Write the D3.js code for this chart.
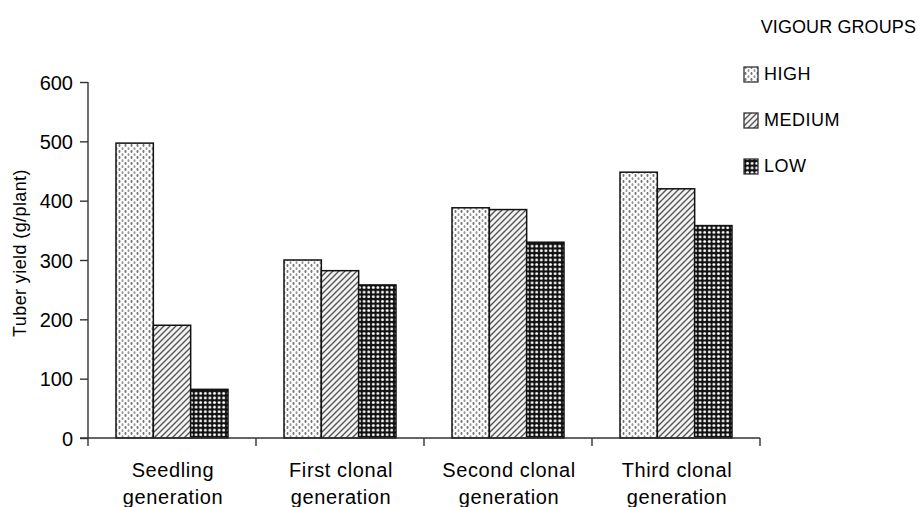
<!DOCTYPE html>
<html>
<head>
<meta charset="utf-8">
<script src="https://cdn.jsdelivr.net/npm/d3@7"></script>
<style>
  body { margin: 0; background: #fff; }
  svg { font-family: "Liberation Sans", Arial, sans-serif; }
</style>
</head>
<body>
<svg id="chart" width="918" height="507"></svg>
<script>
// data
const categories = [["Seedling", "generation"], ["First clonal", "generation"], ["Second clonal", "generation"], ["Third clonal", "generation"]];
const groups = ["HIGH", "MEDIUM", "LOW"];
const high = [497, 300, 388, 448];
const medium = [190, 282, 385, 420];
const low = [82, 258, 330, 358];
const yTicks = [0, 100, 200, 300, 400, 500, 600];

const svg = d3.select("#chart");
const margin = { left: 88, right: 158, top: 82, bottom: 69 };
const width = 918, height = 507;

const x = d3.scaleBand()
    .domain(d3.range(categories.length))
    .range([margin.left, width - margin.right])
    .paddingInner(0).paddingOuter(0);

const xInner = d3.scaleBand()
    .domain(groups)
    .range([0, x.bandwidth()])
    .paddingOuter(0.75).paddingInner(0);

const y = d3.scaleLinear().domain([0, 600]).range([height - margin.bottom, margin.top]);

// fill patterns
const defs = svg.append("defs");
const pHigh = defs.append("pattern").attr("id", "p-high")
    .attr("patternUnits", "userSpaceOnUse").attr("width", 6).attr("height", 6);
pHigh.append("rect").attr("width", 6).attr("height", 6).attr("fill", "#fff");
pHigh.append("ellipse").attr("cx", 1.5).attr("cy", 1.5).attr("rx", 1).attr("ry", 1.6).attr("fill", "#777");
pHigh.append("ellipse").attr("cx", 4.5).attr("cy", 4.5).attr("rx", 1).attr("ry", 1.6).attr("fill", "#999");

const pMed = defs.append("pattern").attr("id", "p-medium")
    .attr("patternUnits", "userSpaceOnUse").attr("width", 6).attr("height", 6);
pMed.append("rect").attr("width", 6).attr("height", 6).attr("fill", "#f4f4f4");
pMed.append("path").attr("d", "M-1,7 L7,-1 M-1,1 L1,-1 M5,7 L7,5")
    .attr("stroke", "#555").attr("stroke-width", 1.4);

const pLow = defs.append("pattern").attr("id", "p-low")
    .attr("patternUnits", "userSpaceOnUse").attr("width", 4.6).attr("height", 4.6);
pLow.append("rect").attr("width", 4.6).attr("height", 4.6).attr("fill", "#111");
pLow.append("circle").attr("cx", 2.3).attr("cy", 2.3).attr("r", 1.45).attr("fill", "#fff");

const fills = { HIGH: "url(#p-high)", MEDIUM: "url(#p-medium)", LOW: "url(#p-low)" };
const series = { HIGH: high, MEDIUM: medium, LOW: low };

// bars
categories.forEach((c, i) => {
    const g = svg.append("g").attr("transform", `translate(${x(i)},0)`);
    groups.forEach(k => {
        g.append("rect")
            .attr("x", xInner(k))
            .attr("y", y(series[k][i]))
            .attr("width", xInner.bandwidth())
            .attr("height", y(0) - y(series[k][i]))
            .attr("fill", fills[k])
            .attr("stroke", "#111")
            .attr("stroke-width", 1.5);
    });
});

// y axis
const yAxis = svg.append("g")
    .attr("transform", `translate(${margin.left},0)`)
    .call(d3.axisLeft(y).tickValues(yTicks).tickSize(8).tickPadding(7).tickFormat(d3.format("d")));
yAxis.selectAll("text").attr("font-size", 20).attr("fill", "#000")
    .attr("font-family", "Liberation Sans, Arial, sans-serif").attr("dy", "0.36em");
yAxis.selectAll("line, path").attr("stroke", "#333").attr("stroke-width", 1.4);
yAxis.select(".domain").attr("d", `M0,${y(600)}V${y(0)}`);

// x axis
const xAxisG = svg.append("g").attr("transform", `translate(0,${y(0)})`);
xAxisG.append("line")
    .attr("x1", margin.left - 8).attr("x2", width - margin.right)
    .attr("stroke", "#333").attr("stroke-width", 1.4);
xAxisG.selectAll("line.tick")
    .data(d3.range(categories.length + 1))
    .join("line").attr("class", "tick")
    .attr("x1", d => d < categories.length ? x(d) : x(d - 1) + x.bandwidth())
    .attr("x2", d => d < categories.length ? x(d) : x(d - 1) + x.bandwidth())
    .attr("y1", 0).attr("y2", 8)
    .attr("stroke", "#333").attr("stroke-width", 1.4);

const labels = svg.append("g");
categories.forEach((c, i) => {
    const cx = x(i) + x.bandwidth() / 2 + 1;
    const t = labels.append("text")
        .attr("x", cx)
        .attr("y", 477)
        .attr("text-anchor", "middle")
        .attr("font-size", 20).attr("letter-spacing", 0.6).attr("fill", "#000");
    t.append("tspan").attr("x", cx).text(c[0]);
    t.append("tspan").attr("x", cx).attr("dy", 27).text(c[1]);
});

// y axis title
svg.append("text")
    .attr("transform", `translate(26,${253}) rotate(-90)`)
    .attr("text-anchor", "middle")
    .attr("font-size", 18).attr("letter-spacing", 0.4).attr("fill", "#000")
    .text("Tuber yield (g/plant)");

// legend
svg.append("text")
    .attr("x", 916).attr("y", 33)
    .attr("text-anchor", "end")
    .attr("font-size", 18).attr("letter-spacing", 0.1).attr("fill", "#000")
    .text("VIGOUR GROUPS");

const legend = svg.append("g");
groups.forEach((k, i) => {
    const ly = 67 + i * 46;
    legend.append("rect")
        .attr("x", 744).attr("y", ly).attr("width", 14).attr("height", 15)
        .attr("fill", fills[k]).attr("stroke", "#333").attr("stroke-width", 1.3);
    legend.append("text")
        .attr("x", 764).attr("y", ly + 13)
        .attr("font-size", 18).attr("letter-spacing", 0.5).attr("fill", "#000")
        .text(k);
});
</script>
</body>
</html>
